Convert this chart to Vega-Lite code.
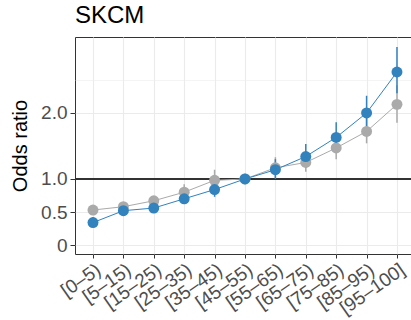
{
  "$schema": "https://vega.github.io/schema/vega-lite/v6.json",
  "width": 337,
  "height": 217,
  "autosize": {"type": "none"},
  "padding": {"left": 75, "top": 37, "right": 0, "bottom": 66},
  "title": {"text": "SKCM", "anchor": "start", "frame": "group", "fontSize": 24, "font": "Liberation Sans", "fontWeight": "normal", "color": "#000000", "offset": 9},
  "config": {"view": {"stroke": "#333333", "strokeWidth": 1}, "font": "Liberation Sans"},
  "data": {"values": [
    {"bin": "[0–5)", "grp": "B", "or": 0.53, "lo": 0.48, "hi": 0.59},
    {"bin": "[5–15)", "grp": "B", "or": 0.58, "lo": 0.52, "hi": 0.64},
    {"bin": "[15–25)", "grp": "B", "or": 0.67, "lo": 0.60, "hi": 0.74},
    {"bin": "[25–35)", "grp": "B", "or": 0.80, "lo": 0.70, "hi": 0.92},
    {"bin": "[35–45)", "grp": "B", "or": 0.98, "lo": 0.85, "hi": 1.14},
    {"bin": "[45–55)", "grp": "B", "or": 1.0, "lo": 1.0, "hi": 1.0},
    {"bin": "[55–65)", "grp": "B", "or": 1.17, "lo": 1.02, "hi": 1.33},
    {"bin": "[65–75)", "grp": "B", "or": 1.25, "lo": 1.11, "hi": 1.41},
    {"bin": "[75–85)", "grp": "B", "or": 1.47, "lo": 1.30, "hi": 1.66},
    {"bin": "[85–95)", "grp": "B", "or": 1.72, "lo": 1.54, "hi": 1.93},
    {"bin": "[95–100]", "grp": "B", "or": 2.13, "lo": 1.85, "hi": 2.42},
    {"bin": "[0–5)", "grp": "A", "or": 0.34, "lo": 0.27, "hi": 0.42},
    {"bin": "[5–15)", "grp": "A", "or": 0.52, "lo": 0.45, "hi": 0.60},
    {"bin": "[15–25)", "grp": "A", "or": 0.56, "lo": 0.49, "hi": 0.64},
    {"bin": "[25–35)", "grp": "A", "or": 0.70, "lo": 0.62, "hi": 0.80},
    {"bin": "[35–45)", "grp": "A", "or": 0.84, "lo": 0.73, "hi": 0.95},
    {"bin": "[45–55)", "grp": "A", "or": 1.0, "lo": 1.0, "hi": 1.0},
    {"bin": "[55–65)", "grp": "A", "or": 1.14, "lo": 1.0, "hi": 1.30},
    {"bin": "[65–75)", "grp": "A", "or": 1.34, "lo": 1.17, "hi": 1.53},
    {"bin": "[75–85)", "grp": "A", "or": 1.63, "lo": 1.42, "hi": 1.86},
    {"bin": "[85–95)", "grp": "A", "or": 2.0, "lo": 1.76, "hi": 2.26},
    {"bin": "[95–100]", "grp": "A", "or": 2.62, "lo": 2.30, "hi": 3.0}
  ]},
  "layer": [
    {
      "mark": {"type": "rule", "color": "#333333", "strokeWidth": 1.2},
      "encoding": {
        "y": {"datum": 1, "type": "quantitative", "scale": {"domain": [-0.136, 3.15], "nice": false, "zero": false},
          "axis": {
            "values": [0, 0.25, 0.5, 0.75, 1, 1.5, 2, 2.25, 2.5],
            "labelExpr": "indexof([0,0.5,1,2], datum.value) >= 0 ? (datum.value == 0 ? '0' : format(datum.value, '.1f')) : ''",
            "grid": true,
            "gridColor": "#ebebeb",
            "gridWidth": {"condition": {"test": "indexof([0,0.5,1,2], datum.value) >= 0", "value": 1.1}, "value": 0.55},
            "tickOpacity": {"condition": {"test": "indexof([0,0.5,1,2], datum.value) >= 0", "value": 1}, "value": 0},
            "domain": false,
            "tickColor": "#333333",
            "tickSize": 5,
            "labelFontSize": 19,
            "labelColor": "#4d4d4d",
            "labelPadding": 3,
            "title": "Odds ratio",
            "titleFontSize": 20,
            "titleFontWeight": "normal",
            "titleColor": "#000000",
            "titlePadding": 10
          }
        }
      }
    },
    {
      "mark": {"type": "rule", "strokeWidth": 1.5},
      "encoding": {
        "x": {"field": "bin", "type": "ordinal", "sort": null, "scale": {"type": "point", "padding": 0.543, "align": 0.545},
          "axis": {"grid": true, "gridColor": "#ebebeb", "gridWidth": 1.1, "domain": false, "tickColor": "#333333", "tickSize": 4, "labelAngle": -35, "labelFontSize": 19, "labelColor": "#4d4d4d", "labelPadding": 2, "title": null}},
        "y": {"field": "lo", "type": "quantitative"},
        "y2": {"field": "hi"},
        "color": {"field": "grp", "type": "nominal", "scale": {"domain": ["B", "A"], "range": ["#aaaaaa", "#3182bd"]}, "legend": null}
      }
    },
    {
      "mark": {"type": "line", "strokeWidth": 1},
      "encoding": {
        "x": {"field": "bin", "type": "ordinal", "sort": null},
        "y": {"field": "or", "type": "quantitative"},
        "color": {"field": "grp", "type": "nominal"}
      }
    },
    {
      "mark": {"type": "circle", "size": 120, "opacity": 1},
      "encoding": {
        "x": {"field": "bin", "type": "ordinal", "sort": null},
        "y": {"field": "or", "type": "quantitative"},
        "color": {"field": "grp", "type": "nominal"}
      }
    }
  ]
}
